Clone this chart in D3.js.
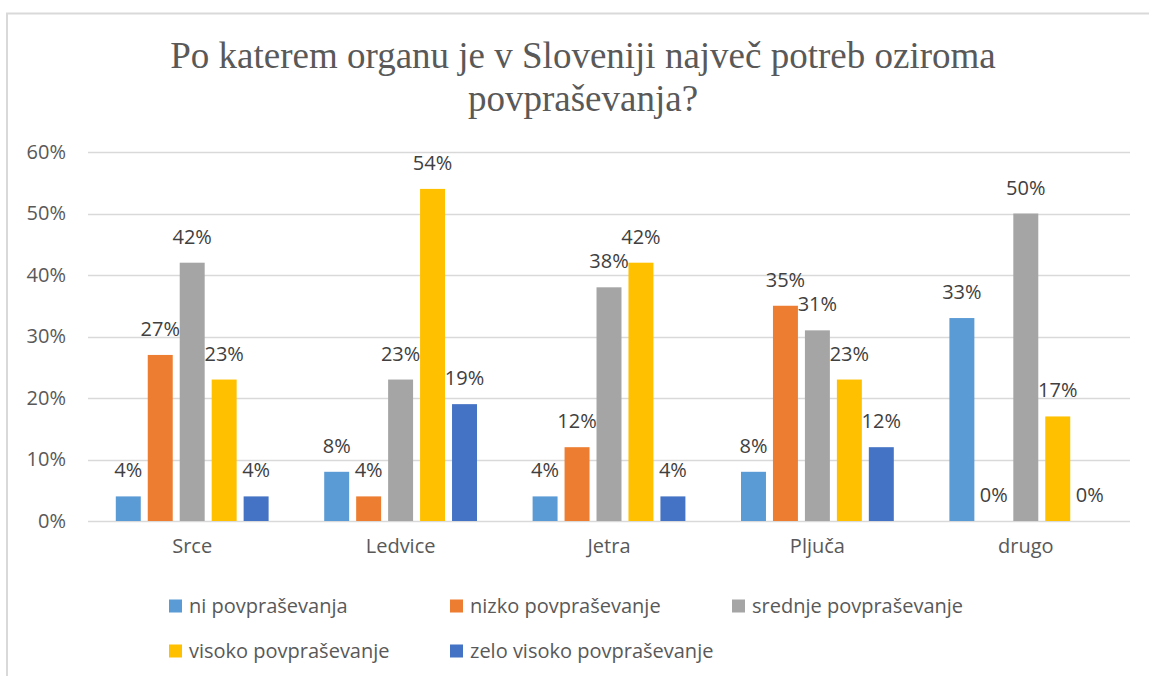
<!DOCTYPE html>
<html>
<head>
<meta charset="utf-8">
<script src="https://cdn.jsdelivr.net/npm/d3@7"></script>
<style>
  body { margin: 0; background: #fff; }
  svg { display: block; }
</style>
</head>
<body>
<svg id="chart"></svg>
<script>
var categories = ["Srce", "Ledvice", "Jetra", "Pljuča", "drugo"];
var seriesNames = ["ni povpraševanja", "nizko povpraševanje", "srednje povpraševanje",
                   "visoko povpraševanje", "zelo visoko povpraševanje"];
var niValues = [4, 8, 4, 8, 33];
var nizkoValues = [27, 4, 12, 35, 0];
var srednjeValues = [42, 23, 38, 31, 50];
var visokoValues = [23, 54, 42, 23, 17];
var zeloValues = [4, 19, 4, 12, 0];
var yTicks = [0, 10, 20, 30, 40, 50, 60];
var colors = ["#5B9BD5", "#ED7D31", "#A5A5A5", "#FFC000", "#4472C4"];

var allValues = [niValues, nizkoValues, srednjeValues, visokoValues, zeloValues];

var width = 1149;
var height = 676;
var fontSans = "'Open Sans', sans-serif";

var svg = d3.select("#chart")
    .attr("width", width)
    .attr("height", height);

// chart frame (only top and left visible)
svg.append("rect")
    .attr("x", 7)
    .attr("y", 13.5)
    .attr("width", 1200)
    .attr("height", 700)
    .attr("fill", "none")
    .attr("stroke", "#d9d9d9")
    .attr("stroke-width", 2);

// title
var title = svg.append("text")
    .attr("text-anchor", "middle")
    .attr("font-family", "'Liberation Serif', 'Times New Roman', serif")
    .attr("font-size", 37)
    .attr("fill", "#595959");
title.append("tspan").attr("x", 583).attr("y", 68)
    .text("Po katerem organu je v Sloveniji največ potreb oziroma");
title.append("tspan").attr("x", 583).attr("y", 111)
    .text("povpraševanja?");

// scales
var x0 = d3.scaleBand()
    .domain(categories)
    .range([88, 1130])
    .padding(0);

var x1 = d3.scaleBand()
    .domain(seriesNames)
    .range([0, x0.bandwidth()])
    .paddingInner(7 / 32)
    .paddingOuter(0.87);

var yScale = d3.scaleLinear()
    .domain([0, 60])
    .range([521, 152]);

// gridlines
svg.append("g")
    .selectAll("line")
    .data(yTicks)
    .enter()
    .append("line")
    .attr("x1", 88)
    .attr("x2", 1130)
    .attr("y1", function(d) { return Math.round(yScale(d)) + 0.5; })
    .attr("y2", function(d) { return Math.round(yScale(d)) + 0.5; })
    .attr("stroke", "#d9d9d9")
    .attr("stroke-width", 1.5);

// y axis labels
var yAxis = d3.axisLeft(yScale)
    .tickValues(yTicks)
    .tickSize(0)
    .tickPadding(0)
    .tickFormat(function(d) { return d + "%"; });

var yG = svg.append("g")
    .attr("transform", "translate(66,0)")
    .call(yAxis);
yG.select(".domain").remove();
yG.selectAll("text")
    .attr("font-family", fontSans)
    .attr("font-size", 20)
    .attr("fill", "#595959");

// category labels
var xAxis = d3.axisBottom(x0).tickSize(0).tickPadding(0);
var xG = svg.append("g")
    .attr("transform", "translate(0,539)")
    .call(xAxis);
xG.select(".domain").remove();
xG.selectAll("text")
    .attr("font-family", fontSans)
    .attr("font-size", 20)
    .attr("fill", "#595959");

// bars
var rows = categories.map(function(cat, ci) {
    return seriesNames.map(function(name, si) {
        return { cat: cat, series: name, index: si, value: allValues[si][ci] };
    });
});

var groups = svg.append("g")
    .selectAll("g")
    .data(rows)
    .enter()
    .append("g")
    .attr("transform", function(d, i) { return "translate(" + x0(categories[i]) + ",0)"; });

groups.selectAll("rect")
    .data(function(d) { return d; })
    .enter()
    .append("rect")
    .attr("x", function(d) { return x1(d.series); })
    .attr("y", function(d) { return yScale(d.value); })
    .attr("width", x1.bandwidth())
    .attr("height", function(d) { return yScale(0) - yScale(d.value); })
    .attr("fill", function(d) { return colors[d.index]; });

// data labels
groups.selectAll("text")
    .data(function(d) { return d; })
    .enter()
    .append("text")
    .attr("x", function(d) { return x1(d.series) + x1.bandwidth() / 2; })
    .attr("y", function(d) { return yScale(d.value) - 19; })
    .attr("text-anchor", "middle")
    .attr("font-family", fontSans)
    .attr("font-size", 20)
    .attr("fill", "#404040")
    .text(function(d) { return d.value + "%"; });

// legend
var legendPos = [[169, 606], [450, 606], [732, 606], [169, 651], [450, 651]];

var legend = svg.append("g")
    .selectAll("g")
    .data(seriesNames)
    .enter()
    .append("g")
    .attr("transform", function(d, i) { return "translate(" + legendPos[i][0] + "," + legendPos[i][1] + ")"; });

legend.append("rect")
    .attr("x", 0)
    .attr("y", -6.5)
    .attr("width", 13)
    .attr("height", 13)
    .attr("fill", function(d, i) { return colors[i]; });

legend.append("text")
    .attr("x", 20)
    .attr("y", 7)
    .attr("font-family", fontSans)
    .attr("font-size", 20)
    .attr("fill", "#595959")
    .text(function(d) { return d; });
</script>
</body>
</html>
